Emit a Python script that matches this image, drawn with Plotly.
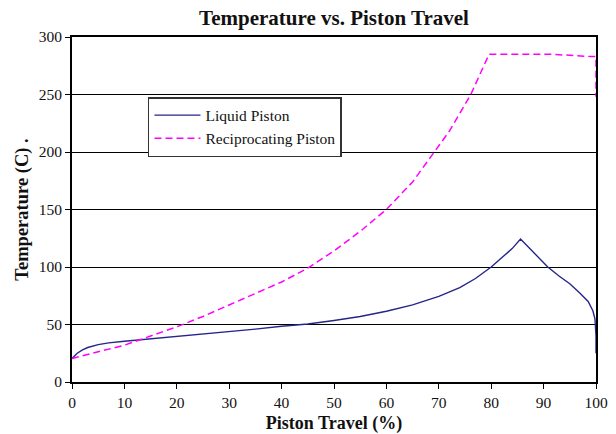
import plotly.graph_objects as go

# Piston travel (%) and gas temperature (C) for each compression scheme
liquid_travel = [0, 0.5, 1, 2, 3, 5, 7, 10, 15, 20, 25, 30, 35, 40, 45, 50, 55, 60, 65,
                 70, 74, 77, 80, 82, 84, 85.6, 88, 90.8, 93, 95, 97, 98.5, 99.4, 99.8, 100, 100]
liquid_temp = [20.5, 23, 25, 28, 30, 32.5, 34, 35.5, 37.5, 39.5, 42, 44, 46, 48.5, 50.5, 53.5,
               57, 61.5, 67, 74.5, 82, 90, 100, 108, 116, 124.3, 113, 100, 92, 85.5, 77, 70,
               62, 55, 40, 25]

recip_travel = [0, 5, 10, 15, 20, 25, 30, 35, 40, 45, 50, 55, 60, 65, 69.2, 72, 76.1, 79.6,
                85, 91.5, 99.1, 100, 100]
recip_temp = [20.5, 26, 32, 40, 48, 57, 67, 77, 87, 99, 114, 131, 150, 174, 200, 218, 250, 285,
              285, 285, 283, 283, 248]

x_ticks = list(range(0, 101, 10))
y_ticks = list(range(0, 301, 50))

SERIF = "Liberation Serif, Times New Roman, serif"

fig = go.Figure()
fig.add_trace(go.Scatter(
    x=liquid_travel, y=liquid_temp, mode="lines", name="Liquid Piston",
    line=dict(color="#25258a", width=1.4),
))
fig.add_trace(go.Scatter(
    x=recip_travel, y=recip_temp, mode="lines", name="Reciprocating Piston",
    line=dict(color="#ff00ff", width=1.5, dash="7px,4px"),
))

fig.update_layout(
    width=616, height=434,
    margin=dict(l=72, r=20, t=37, b=52),
    paper_bgcolor="white", plot_bgcolor="white",
    font=dict(family=SERIF, size=15.5, color="#111"),
    title=dict(text="<b>Temperature vs. Piston Travel</b>", x=0.5, xref="paper",
               y=1 - 18 / 434, yref="container", yanchor="middle",
               font=dict(family=SERIF, size=21, color="#111")),
    showlegend=True,
    legend=dict(
        x=0.145, y=0.826, xanchor="left", yanchor="top",
        bgcolor="white", bordercolor="#333", borderwidth=1.5,
        font=dict(family=SERIF, size=15.5, color="#111"),
        tracegroupgap=0, itemwidth=46,
    ),
)

fig.update_xaxes(
    range=[0, 100], tickvals=x_ticks, ticks="outside", ticklen=5, tickwidth=1.2,
    tickcolor="black", showline=True, linecolor="black", linewidth=2, mirror=True,
    showgrid=False, zeroline=False, automargin=False,
    tickfont=dict(family=SERIF, size=15.5),
    title=dict(text="<b>Piston Travel (%)</b>", font=dict(family=SERIF, size=18), standoff=10),
)
fig.update_yaxes(
    range=[0, 300], tickvals=y_ticks, ticks="outside", ticklen=5, tickwidth=1.2,
    tickcolor="black", showline=True, linecolor="black", linewidth=2, mirror=True,
    showgrid=True, gridcolor="black", gridwidth=1.2, zeroline=False, automargin=False,
    tickfont=dict(family=SERIF, size=15.5),
    title=dict(text="<b>Temperature (C) .</b>", font=dict(family=SERIF, size=18.5), standoff=5),
)

fig.write_html("out.html")
